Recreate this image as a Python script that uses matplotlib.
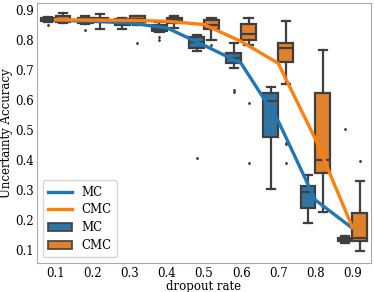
import matplotlib
matplotlib.use('Agg')
import matplotlib.pyplot as plt
from matplotlib.patches import Patch

plt.rcParams['font.family'] = ['DejaVu Serif']
plt.rcParams['font.size'] = 8.5

# Data
rates = ['0.1', '0.2', '0.3', '0.4', '0.5', '0.6', '0.7', '0.8', '0.9']

# mean curves
mc_mean = [0.865, 0.862, 0.856, 0.840, 0.782, 0.722, 0.530, 0.267, 0.173]
cmc_mean = [0.867, 0.866, 0.865, 0.862, 0.851, 0.795, 0.722, 0.470, 0.176]

# box stats: whisker low, q1, median, q3, whisker high, fliers
mc_wlo = [0.858, 0.852, 0.837, 0.826, 0.763, 0.708, 0.303, 0.189, 0.125]
mc_q1 = [0.862, 0.856, 0.848, 0.828, 0.772, 0.722, 0.476, 0.239, 0.131]
mc_med = [0.867, 0.866, 0.859, 0.837, 0.792, 0.741, 0.597, 0.294, 0.137]
mc_q3 = [0.873, 0.873, 0.869, 0.848, 0.810, 0.756, 0.622, 0.314, 0.142]
mc_whi = [0.876, 0.878, 0.872, 0.858, 0.817, 0.789, 0.644, 0.350, 0.147]
mc_fliers = [[0.850], [0.833], [], [0.808, 0.801], [0.407],
             [0.633, 0.626], [], [], [0.502]]

cmc_wlo = [0.855, 0.837, 0.850, 0.839, 0.800, 0.783, 0.653, 0.228, 0.097]
cmc_q1 = [0.859, 0.860, 0.861, 0.856, 0.837, 0.800, 0.728, 0.356, 0.131]
cmc_med = [0.870, 0.867, 0.870, 0.867, 0.850, 0.819, 0.772, 0.400, 0.139]
cmc_q3 = [0.880, 0.874, 0.878, 0.872, 0.867, 0.853, 0.789, 0.624, 0.224]
cmc_whi = [0.889, 0.886, 0.880, 0.880, 0.874, 0.872, 0.864, 0.767, 0.331]
cmc_fliers = [[], [], [0.789], [], [0.783], [0.590, 0.389],
              [0.458, 0.452, 0.391], [], [0.398]]

blue_box, orange_box = '#3274a1', '#e1812c'
edge = '#3f3f3f'


def stats(wlo, q1, med, q3, whi, fl):
    return [dict(whislo=a, q1=b, med=c, q3=d, whishi=e, fliers=f)
            for a, b, c, d, e, f in zip(wlo, q1, med, q3, whi, fl)]


fig, ax = plt.subplots(figsize=(3.74, 2.92), dpi=100)
fig.subplots_adjust(left=0.099, right=0.992, top=0.99, bottom=0.099)

x = list(range(len(rates)))
line_kw = dict(color=edge, linewidth=1.6)
flier_kw = dict(marker='d', markersize=1.2, markerfacecolor=edge,
                markeredgecolor=edge, linestyle='none')

for data, off, col in [(stats(mc_wlo, mc_q1, mc_med, mc_q3, mc_whi, mc_fliers), -0.2, blue_box),
                       (stats(cmc_wlo, cmc_q1, cmc_med, cmc_q3, cmc_whi, cmc_fliers), 0.2, orange_box)]:
    ax.bxp(data, positions=[i + off for i in x], widths=0.4, capwidths=0.22,
           patch_artist=True, manage_ticks=False,
           boxprops=dict(facecolor=col, edgecolor=edge, linewidth=1.6),
           medianprops=line_kw, whiskerprops=line_kw, capprops=line_kw,
           flierprops=flier_kw)

ax.plot(x, mc_mean, color='#1f77b4', lw=2.4, zorder=3)
ax.plot(x, cmc_mean, color='#ff7f0e', lw=2.4, zorder=3)

ax.set_xlim(-0.5, len(rates) - 0.5)
ax.set_ylim(0.057, 0.923)
ax.set_xticks(x)
ax.set_xticklabels(rates)
ax.set_yticks([0.1, 0.2, 0.3, 0.4, 0.5, 0.6, 0.7, 0.8, 0.9])
ax.tick_params(length=0, pad=2.5)
for s in ax.spines.values():
    s.set_color('#aaaaaa')
ax.set_xlabel('dropout rate', labelpad=0)
ax.set_ylabel('Uncertainty Accuracy', labelpad=1)

handles = [plt.Line2D([], [], color='#1f77b4', lw=2.4),
           plt.Line2D([], [], color='#ff7f0e', lw=2.4),
           Patch(facecolor=blue_box, edgecolor=edge, linewidth=1.2),
           Patch(facecolor=orange_box, edgecolor=edge, linewidth=1.2)]
ax.legend(handles, ['MC', 'CMC', 'MC', 'CMC'], loc='lower left',
          fontsize=8.5, handlelength=2.0, labelspacing=0.4,
          borderpad=0.45, framealpha=0.8)

fig.savefig('out.png', dpi=100)
